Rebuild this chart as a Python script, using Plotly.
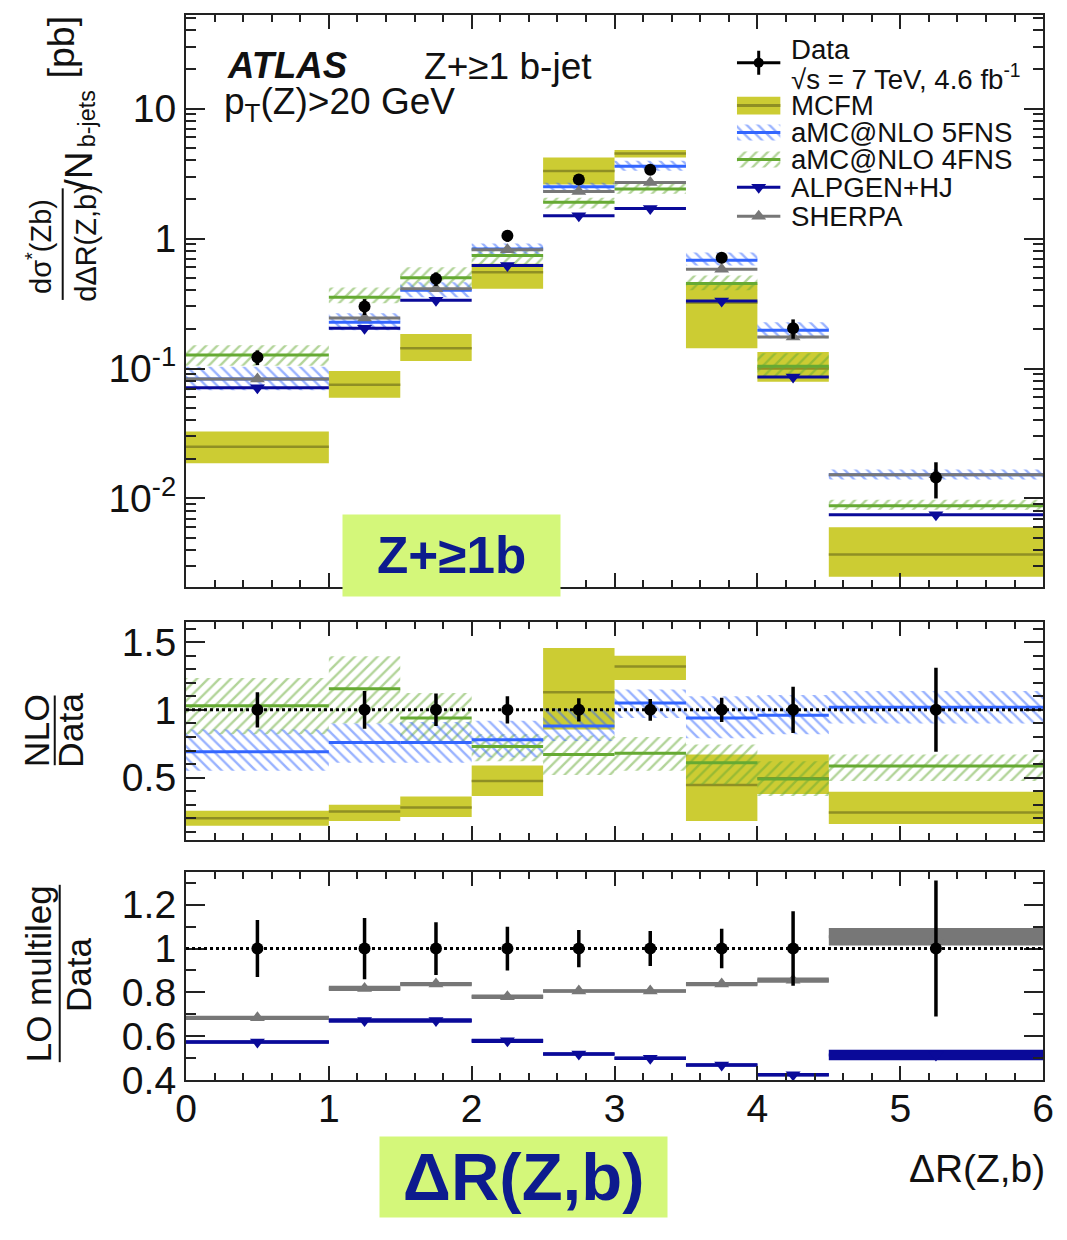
import plotly.graph_objects as go

W, H = 1067, 1240

# ---------------- data ----------------
bin_lo = [0.0, 1.0, 1.5, 2.0, 2.5, 3.0, 3.5, 4.0, 4.5]
bin_hi = [1.0, 1.5, 2.0, 2.5, 3.0, 3.5, 4.0, 4.5, 6.0]
bin_ctr = [0.5, 1.25, 1.75, 2.25, 2.75, 3.25, 3.75, 4.25, 5.25]

data_val = [0.122, 0.30, 0.49, 1.05, 2.85, 3.38, 0.71, 0.204, 0.0145]
data_rel_err = [0.13, 0.14, 0.12, 0.10, 0.085, 0.08, 0.09, 0.17, 0.31]

mcfm_val = [0.025, 0.075, 0.143, 0.55, 3.3, 4.5, 0.32, 0.10, 0.0037]
mcfm_lo = [0.0187, 0.0595, 0.114, 0.41, 2.6, 4.2, 0.143, 0.079, 0.0025]
mcfm_hi = [0.0327, 0.0957, 0.184, 0.64, 4.2, 4.8, 0.45, 0.134, 0.0060]

amc5_val = [0.083, 0.227, 0.40, 0.83, 2.5, 3.6, 0.68, 0.197, 0.0152]
amc5_lo = [0.068, 0.197, 0.353, 0.74, 2.25, 3.32, 0.62, 0.171, 0.0140]
amc5_hi = [0.103, 0.266, 0.46, 0.915, 2.69, 3.96, 0.78, 0.227, 0.0167]

amc4_val = [0.127, 0.353, 0.50, 0.74, 1.9, 2.4, 0.45, 0.104, 0.0088]
amc4_lo = [0.105, 0.318, 0.42, 0.62, 1.70, 2.21, 0.40, 0.086, 0.0082]
amc4_hi = [0.151, 0.42, 0.60, 0.86, 2.06, 2.69, 0.52, 0.131, 0.0098]

alpgen_val = [0.071, 0.204, 0.335, 0.62, 1.50, 1.70, 0.33, 0.086, 0.0075]
sherpa_val = [0.083, 0.245, 0.41, 0.82, 2.3, 2.7, 0.58, 0.175, 0.0152]

# NLO / Data ratios
mcfm_r = [0.20, 0.25, 0.28, 0.475, 1.13, 1.32, 0.446, 0.495, 0.243]
mcfm_r_lo = [0.145, 0.18, 0.21, 0.365, 0.855, 1.22, 0.18, 0.38, 0.157]
mcfm_r_hi = [0.255, 0.30, 0.36, 0.59, 1.456, 1.40, 0.67, 0.67, 0.395]

amc5_r = [0.69, 0.76, 0.76, 0.78, 0.88, 1.05, 0.94, 0.96, 1.02]
amc5_r_lo = [0.55, 0.61, 0.61, 0.65, 0.77, 0.94, 0.79, 0.82, 0.90]
amc5_r_hi = [0.855, 0.90, 0.91, 0.92, 1.01, 1.15, 1.10, 1.11, 1.14]

amc4_r = [1.03, 1.155, 0.94, 0.73, 0.67, 0.68, 0.61, 0.49, 0.585]
amc4_r_lo = [0.82, 0.90, 0.76, 0.62, 0.52, 0.55, 0.45, 0.365, 0.475]
amc4_r_hi = [1.235, 1.395, 1.125, 0.82, 0.81, 0.80, 0.745, 0.62, 0.67]

# LO multileg / Data ratios
alpgen_r = [0.574, 0.672, 0.672, 0.579, 0.519, 0.50, 0.469, 0.424, 0.514]
alpgen_r_err = [0.008, 0.01, 0.01, 0.01, 0.008, 0.008, 0.008, 0.008, 0.024]
sherpa_r = [0.684, 0.818, 0.838, 0.78, 0.807, 0.807, 0.838, 0.856, 1.054]
sherpa_r_err = [0.01, 0.012, 0.01, 0.01, 0.008, 0.008, 0.01, 0.012, 0.04]

ratio_one = [1.0] * len(bin_ctr)

# ---------------- style ----------------
FONT = "Liberation Sans, Arial, Helvetica, sans-serif"
C_MCFM = "#cccc33"
C_MCFM_LINE = "#8f8f24"
C_5FNS = "#3366ff"
C_4FNS = "#66aa33"
C_ALP = "#0a0a99"
C_SHE = "#777777"
C_AX = "#222222"
C_BOX = "#d4f77a"
C_NAVY = "#0d1b8e"

# layout positions below are given in target-picture pixels and mapped to the page
SC, OX, OY = 0.985, 8.0, 0.0


def px(x):
    return ((x - OX) / SC) / W


def py(y):
    return 1 - ((y - OY) / SC) / H


def fs(s):
    return s / SC


def rects(x0s, x1s, y0s, y1s):
    xs, ys = [], []
    for a, b, c, d in zip(x0s, x1s, y0s, y1s):
        xs += [a, b, b, a, a, None]
        ys += [c, c, d, d, c, None]
    return xs, ys


def segs(x0s, x1s, vals):
    xs, ys = [], []
    for a, b, v in zip(x0s, x1s, vals):
        xs += [a, b, None]
        ys += [v, v, None]
    return xs, ys


def err_from_rel(vals, rel):
    return [v * r for v, r in zip(vals, rel)]


fig = go.Figure()


def add_band(xa, ya, x0s, x1s, lo, hi, color, pattern=None):
    xs, ys = rects(x0s, x1s, lo, hi)
    if pattern is None:
        fig.add_trace(go.Scatter(x=xs, y=ys, xaxis=xa, yaxis=ya, mode="lines",
                                 fill="toself", fillcolor=color,
                                 line=dict(width=0, color=color),
                                 hoverinfo="skip", showlegend=False))
    else:
        fig.add_trace(go.Scatter(x=xs, y=ys, xaxis=xa, yaxis=ya, mode="lines",
                                 fill="toself", fillcolor="rgba(255,255,255,0)",
                                 fillpattern=dict(shape=pattern, fgcolor=color,
                                                  bgcolor="rgba(255,255,255,0)",
                                                  size=8, solidity=0.3),
                                 line=dict(width=0, color=color),
                                 hoverinfo="skip", showlegend=False))


def add_line(xa, ya, x0s, x1s, vals, color, width=3):
    xs, ys = segs(x0s, x1s, vals)
    fig.add_trace(go.Scatter(x=xs, y=ys, xaxis=xa, yaxis=ya, mode="lines",
                             line=dict(color=color, width=width),
                             hoverinfo="skip", showlegend=False))


def add_markers(xa, ya, xs, ys, color, symbol, size, err=None):
    kw = {}
    if err is not None:
        kw["error_y"] = dict(type="data", array=err, visible=True,
                             color=color, thickness=3.5, width=0)
    fig.add_trace(go.Scatter(x=xs, y=ys, xaxis=xa, yaxis=ya, mode="markers",
                             marker=dict(color=color, symbol=symbol, size=size,
                                         line=dict(width=0)),
                             hoverinfo="skip", showlegend=False, **kw))


# ---------------- top panel ----------------
add_band("x", "y", bin_lo, bin_hi, mcfm_lo, mcfm_hi, C_MCFM)
add_line("x", "y", bin_lo, bin_hi, mcfm_val, C_MCFM_LINE, 2.5)
add_band("x", "y", bin_lo, bin_hi, amc4_lo, amc4_hi, C_4FNS, "/")
add_band("x", "y", bin_lo, bin_hi, amc5_lo, amc5_hi, C_5FNS, "\\")
add_line("x", "y", bin_lo, bin_hi, amc4_val, C_4FNS, 3)
add_line("x", "y", bin_lo, bin_hi, amc5_val, C_5FNS, 3)
add_line("x", "y", bin_lo, bin_hi, sherpa_val, C_SHE, 3)
add_line("x", "y", bin_lo, bin_hi, alpgen_val, C_ALP, 3)
add_markers("x", "y", bin_ctr, sherpa_val, C_SHE, "triangle-up", 13)
add_markers("x", "y", bin_ctr, alpgen_val, C_ALP, "triangle-down", 13)
add_markers("x", "y", bin_ctr, data_val, "black", "circle", 12,
            err_from_rel(data_val, data_rel_err))

# ---------------- middle panel (NLO/Data) ----------------
add_band("x2", "y2", bin_lo, bin_hi, mcfm_r_lo, mcfm_r_hi, C_MCFM)
add_line("x2", "y2", bin_lo, bin_hi, mcfm_r, C_MCFM_LINE, 2.5)
add_band("x2", "y2", bin_lo, bin_hi, amc4_r_lo, amc4_r_hi, C_4FNS, "/")
add_band("x2", "y2", bin_lo, bin_hi, amc5_r_lo, amc5_r_hi, C_5FNS, "\\")
add_line("x2", "y2", bin_lo, bin_hi, amc4_r, C_4FNS, 3)
add_line("x2", "y2", bin_lo, bin_hi, amc5_r, C_5FNS, 3)
add_markers("x2", "y2", bin_ctr, ratio_one, "black", "circle", 12, data_rel_err)

# ---------------- bottom panel (LO multileg/Data) ----------------
sh_lo = [v - e for v, e in zip(sherpa_r, sherpa_r_err)]
sh_hi = [v + e for v, e in zip(sherpa_r, sherpa_r_err)]
al_lo = [v - e for v, e in zip(alpgen_r, alpgen_r_err)]
al_hi = [v + e for v, e in zip(alpgen_r, alpgen_r_err)]
add_band("x3", "y3", bin_lo, bin_hi, sh_lo, sh_hi, C_SHE)
add_band("x3", "y3", bin_lo, bin_hi, al_lo, al_hi, C_ALP)
add_line("x3", "y3", bin_lo, bin_hi, sherpa_r, C_SHE, 3)
add_line("x3", "y3", bin_lo, bin_hi, alpgen_r, C_ALP, 3)
add_markers("x3", "y3", bin_ctr, sherpa_r, C_SHE, "triangle-up", 13)
add_markers("x3", "y3", bin_ctr, alpgen_r, C_ALP, "triangle-down", 13)
add_markers("x3", "y3", bin_ctr, ratio_one, "black", "circle", 12, data_rel_err)

# ---------------- manual legend (own hidden axes, units = target pixels) ----------------
leg_rows = {"data": 62, "mcfm": 105, "amc5": 132, "amc4": 159, "alp": 187, "she": 216}
LX, LY = "x4", "y4"
fig.add_trace(go.Scatter(x=[0.5], y=[leg_rows["data"]], xaxis=LX, yaxis=LY, mode="markers",
                         marker=dict(color="black", size=10),
                         error_x=dict(type="constant", value=0.5, color="black", thickness=3, width=0),
                         error_y=dict(type="constant", value=12, color="black", thickness=3, width=0),
                         hoverinfo="skip", showlegend=False))
for key, color, pat, hh in [("mcfm", C_MCFM, None, 9), ("amc5", C_5FNS, "\\", 8), ("amc4", C_4FNS, "/", 8)]:
    r = leg_rows[key]
    add_band(LX, LY, [0], [1], [r - hh], [r + hh], color, pat)
    add_line(LX, LY, [0], [1], [r], C_MCFM_LINE if key == "mcfm" else color, 3)
add_line(LX, LY, [0], [1], [leg_rows["alp"]], C_ALP, 3)
add_markers(LX, LY, [0.5], [leg_rows["alp"]], C_ALP, "triangle-down", 13)
add_line(LX, LY, [0], [1], [leg_rows["she"]], C_SHE, 3)
add_markers(LX, LY, [0.5], [leg_rows["she"]], C_SHE, "triangle-up", 13)

# ---------------- axes ----------------
X_DOM = [px(184), px(1046)]
TICKFONT = dict(family=FONT, size=fs(38.5), color="#111")
common = dict(showline=True, linecolor=C_AX, linewidth=2, mirror="allticks",
              ticks="inside", tickcolor=C_AX, tickwidth=2, showgrid=False,
              zeroline=False, tickfont=TICKFONT)

xminor = dict(ticks="inside", dtick=0.2, ticklen=7, tickcolor=C_AX, tickwidth=2, showgrid=False)

fig.update_layout(
    xaxis=dict(domain=X_DOM, anchor="y", range=[0, 6], dtick=1, ticklen=14,
               showticklabels=False, minor=xminor, **common),
    yaxis=dict(domain=[py(588), py(14)], anchor="x", type="log", range=[-2.68, 1.72],
               tickvals=[0.01, 0.1, 1, 10],
               ticktext=["10<sup>-2</sup>", "10<sup>-1</sup>", "1", "10"],
               ticklen=19, ticklabelstandoff=0,
               minor=dict(ticks="inside", ticklen=10, tickcolor=C_AX, tickwidth=2,
                          tickvals=[k * 10 ** n for n in range(-3, 2) for k in range(2, 10)],
                          showgrid=False),
               **common),
    xaxis2=dict(domain=X_DOM, anchor="y2", range=[0, 6], dtick=1, ticklen=14,
                showticklabels=False, minor=xminor, **common),
    yaxis2=dict(domain=[py(842), py(623)], anchor="x2", range=[0.04, 1.65],
                tickvals=[0.5, 1, 1.5], ticktext=["0.5", "1", "1.5"], ticklen=19,
                ticklabelstandoff=0,
                minor=dict(ticks="inside", dtick=0.1, ticklen=10, tickcolor=C_AX, tickwidth=2,
                           showgrid=False),
                **common),
    xaxis3=dict(domain=X_DOM, anchor="y3", range=[0, 6], dtick=1, ticklen=14,
                showticklabels=True, ticklabelstandoff=-7, minor=xminor, **common),
    yaxis3=dict(domain=[py(1083), py(874)], anchor="x3", range=[0.4, 1.35],
                tickvals=[0.4, 0.6, 0.8, 1.0, 1.2], ticktext=["0.4", "0.6", "0.8", "1", "1.2"],
                ticklen=19, ticklabelstandoff=0,
                minor=dict(ticks="inside", dtick=0.1, ticklen=10, tickcolor=C_AX, tickwidth=2,
                           showgrid=False),
                **common),
    xaxis4=dict(domain=[px(738), px(782)], anchor="y4", range=[0, 1], visible=False),
    yaxis4=dict(domain=[py(235), py(35)], anchor="x4", range=[235, 35], visible=False),
    width=W, height=H, margin=dict(l=0, r=0, t=0, b=0),
    paper_bgcolor="white", plot_bgcolor="white", showlegend=False,
    font=dict(family=FONT, color="#111"),
)

# dotted reference lines at 1
for xr, yr in [("x2 domain", "y2"), ("x3 domain", "y3")]:
    fig.add_shape(type="line", xref=xr, yref=yr, x0=0, x1=1, y0=1, y1=1,
                  line=dict(color="black", width=3, dash="dot"))

# ---------------- text ----------------
ann = []


def A(text, x, y, size, xanchor="center", yanchor="middle", angle=0, color="#111", **kw):
    ann.append(dict(text=text, x=px(x), y=py(y), xref="paper", yref="paper",
                    xanchor=xanchor, yanchor=yanchor, textangle=angle, showarrow=False,
                    font=dict(family=FONT, size=fs(size), color=color), **kw))


A("<b><i>ATLAS</i></b>", 223, 65, 36, xanchor="left")
A("Z+≥1 b-jet", 421, 65, 36.5, xanchor="left")
A("p<sub>T</sub>(Z)>20 GeV", 220, 103, 36.5, xanchor="left")

leg_font = 27.2
A("Data", 790, 49, leg_font, xanchor="left")
A("√s = 7 TeV, 4.6 fb<sup>-1</sup>", 790, 77, leg_font, xanchor="left")
A("MCFM", 790, leg_rows["mcfm"], leg_font, xanchor="left")
A("aMC@NLO 5FNS", 790, leg_rows["amc5"], leg_font, xanchor="left")
A("aMC@NLO 4FNS", 790, leg_rows["amc4"], leg_font, xanchor="left")
A("ALPGEN+HJ", 790, leg_rows["alp"], leg_font, xanchor="left")
A("SHERPA", 790, leg_rows["she"], leg_font, xanchor="left")

# y titles
A("dσ<sup>*</sup>(Zb)", 36, 246, 28.5, angle=-90)
A("dΔR(Z,b)", 84, 243, 28.5, angle=-90)
A("/N", 76, 170, 38, angle=-90)
A("b-jets", 84, 118, 23, angle=-90)
A("[pb]", 58, 46, 37, angle=-90)
A("NLO", 35, 732, 35, angle=-90)
A("Data", 69, 732, 35, angle=-90)
A("LO multileg", 36, 976, 34.5, angle=-90)
A("Data", 76, 978, 34.5, angle=-90)

# x title
A("ΔR(Z,b)", 1050, 1172, 38.3, xanchor="right")

# highlight boxes
A("<b>Z+≥1b</b>", 451, 557, 50.5, color=C_NAVY, bgcolor=C_BOX,
  width=214 / SC, height=80 / SC, borderpad=0)
ann.append(dict(text="<b>ΔR(Z,b)</b>", x=px(523.5), y=0, xref="paper", yref="paper",
                xanchor="center", yanchor="bottom", showarrow=False,
                font=dict(family=FONT, size=fs(66), color=C_NAVY),
                bgcolor=C_BOX, width=283 / SC, height=(1240 - 1143 / SC), borderpad=0))

fig.update_layout(annotations=ann)

# fraction bars
for x, y0, y1 in [(60, 188, 300), (52, 697, 767), (57, 887, 1065)]:
    fig.add_shape(type="line", xref="paper", yref="paper", x0=px(x), x1=px(x),
                  y0=py(y0), y1=py(y1), line=dict(color="#111", width=2))

fig.write_html("out.html")
